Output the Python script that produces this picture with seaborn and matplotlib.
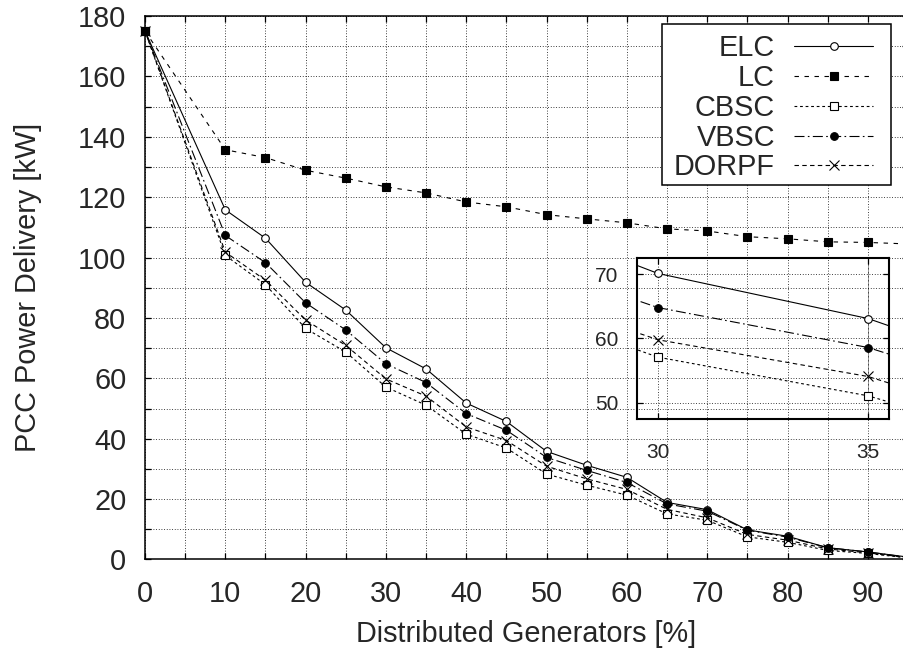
import matplotlib
matplotlib.use("Agg")
import matplotlib.pyplot as plt
from matplotlib.patches import Rectangle
from matplotlib.ticker import MultipleLocator, FixedLocator, NullLocator
import seaborn as sns

# Share of distributed generators [%]
dg_share = [0, 10, 15, 20, 25, 30, 35, 40, 45, 50, 55, 60, 65, 70, 75, 80, 85, 90, 95]

# PCC power delivery [kW] for each control scheme
elc = [175, 115.8, 106.4, 91.8, 82.6, 70.1, 63.1, 51.8, 45.7, 35.8, 31.2, 27.2, 18.9, 16.5, 9.8, 7.7, 3.9, 2.5, 0.8]
lc = [175, 135.7, 133.1, 128.9, 126.3, 123.4, 121.4, 118.4, 116.8, 114.2, 112.8, 111.5, 109.5, 108.8, 106.9, 106.2, 105.2, 105.0, 104.5]
cbsc = [175, 100.7, 91.0, 76.5, 68.7, 57.1, 51.1, 41.5, 36.9, 28.3, 24.6, 21.3, 15.1, 13.0, 7.5, 5.7, 3.0, 2.0, 0.5]
vbsc = [175, 107.3, 98.3, 85.0, 76.0, 64.8, 58.6, 48.3, 42.8, 33.8, 29.5, 25.5, 18.4, 16.0, 9.7, 7.4, 3.9, 2.5, 0.7]
dorpf = [175, 101.8, 92.5, 79.3, 70.9, 59.8, 54.1, 43.9, 39.4, 30.9, 26.7, 23.2, 16.6, 13.8, 8.3, 6.4, 3.5, 2.2, 0.6]

series_names = ["ELC", "LC", "CBSC", "VBSC", "DORPF"]
series_values = [elc, lc, cbsc, vbsc, dorpf]

x_ticks = [0, 10, 20, 30, 40, 50, 60, 70, 80, 90]
y_ticks = [0, 20, 40, 60, 80, 100, 120, 140, 160, 180]
inset_x_ticks = [30, 35]
inset_y_ticks = [50, 60, 70]

sns.set_style("ticks")
plt.rcParams["font.family"] = ["Liberation Sans", "DejaVu Sans"]
plt.rcParams["axes.linewidth"] = 1.1

styles = {
    "ELC": dict(linestyle="-", marker="o", markerfacecolor="white", markersize=5.5),
    "LC": dict(linestyle=(0, (4, 5)), marker="s", markerfacecolor="black", markersize=6),
    "CBSC": dict(linestyle=(0, (2.5, 2.5)), marker="s", markerfacecolor="white", markersize=6),
    "VBSC": dict(linestyle=(0, (9, 3, 1.5, 3)), marker="o", markerfacecolor="black", markersize=5.5),
    "DORPF": dict(linestyle=(0, (4, 3)), marker="x", markersize=7),
}

fig = plt.figure(figsize=(9.04, 6.52), dpi=100)
ax = fig.add_axes([0.1604, 0.1419, 0.8440, 0.8336])


def draw_series(target, clip):
    for name, vals in zip(series_names, series_values):
        sns.lineplot(x=dg_share, y=vals, ax=target, color="black", linewidth=0.8,
                     markeredgecolor="black", markeredgewidth=0.8, label=name,
                     clip_on=clip, legend=False, **styles[name])


def grid_style(target, label_size, pad_x, pad_y):
    target.tick_params(axis="both", which="both", direction="in", top=True, right=True,
                       length=4, width=0.9, color="black")
    target.tick_params(axis="x", labelsize=label_size, pad=pad_x)
    target.tick_params(axis="y", labelsize=label_size, pad=pad_y)
    target.grid(True, which="both", color="black", linestyle=(0, (1, 2.2)), linewidth=0.6)
    target.set_axisbelow(True)
    for sp in target.spines.values():
        sp.set_color("black")


draw_series(ax, False)
ax.set_xlim(0, 95)
ax.set_ylim(0, 180)
ax.xaxis.set_major_locator(FixedLocator(x_ticks))
ax.xaxis.set_minor_locator(MultipleLocator(5))
ax.yaxis.set_major_locator(FixedLocator(y_ticks))
ax.yaxis.set_minor_locator(MultipleLocator(10))
grid_style(ax, 20.8, 14.5, 13.5)
ax.set_xlabel("Distributed Generators [%]", fontsize=20.8)
ax.set_ylabel("PCC Power Delivery [kW]", fontsize=20.8)
ax.xaxis.set_label_coords(0.5, -0.112)
ax.yaxis.set_label_coords(-0.135, 0.5)

# key box: white panel with a thin black border, entries right-aligned inside it
key_box = Rectangle((0.7323, 0.7158), 0.2533, 0.2469, transform=fig.transFigure,
                    facecolor="white", edgecolor="black", linewidth=1.1, zorder=4)
ax.add_patch(key_box)
key_box.set_clip_on(False)
leg = ax.legend(loc="upper right", bbox_to_anchor=(0.9657, 0.9471), bbox_transform=fig.transFigure,
                borderaxespad=0, markerfirst=False, numpoints=1, fontsize=20.8, frameon=False,
                handlelength=2.73, handletextpad=0.66, labelspacing=0.06, borderpad=0)
leg.set_zorder(5)

# zoomed view around 30-35 %
ax_in = fig.add_axes([0.7046, 0.3574, 0.2788, 0.2469])
ax_in.set_facecolor("none")
draw_series(ax_in, True)
ax_in.set_xlim(29.5, 35.5)
ax_in.set_ylim(47.5, 72.5)
ax_in.xaxis.set_major_locator(FixedLocator(inset_x_ticks))
ax_in.yaxis.set_major_locator(FixedLocator(inset_y_ticks))
ax_in.xaxis.set_minor_locator(NullLocator())
ax_in.yaxis.set_minor_locator(NullLocator())
grid_style(ax_in, 15, 17, 13.5)
for sp in ax_in.spines.values():
    sp.set_linewidth(1.5)
ax_in.set_xlabel("")
ax_in.set_ylabel("")

fig.savefig("out.png", dpi=100)
